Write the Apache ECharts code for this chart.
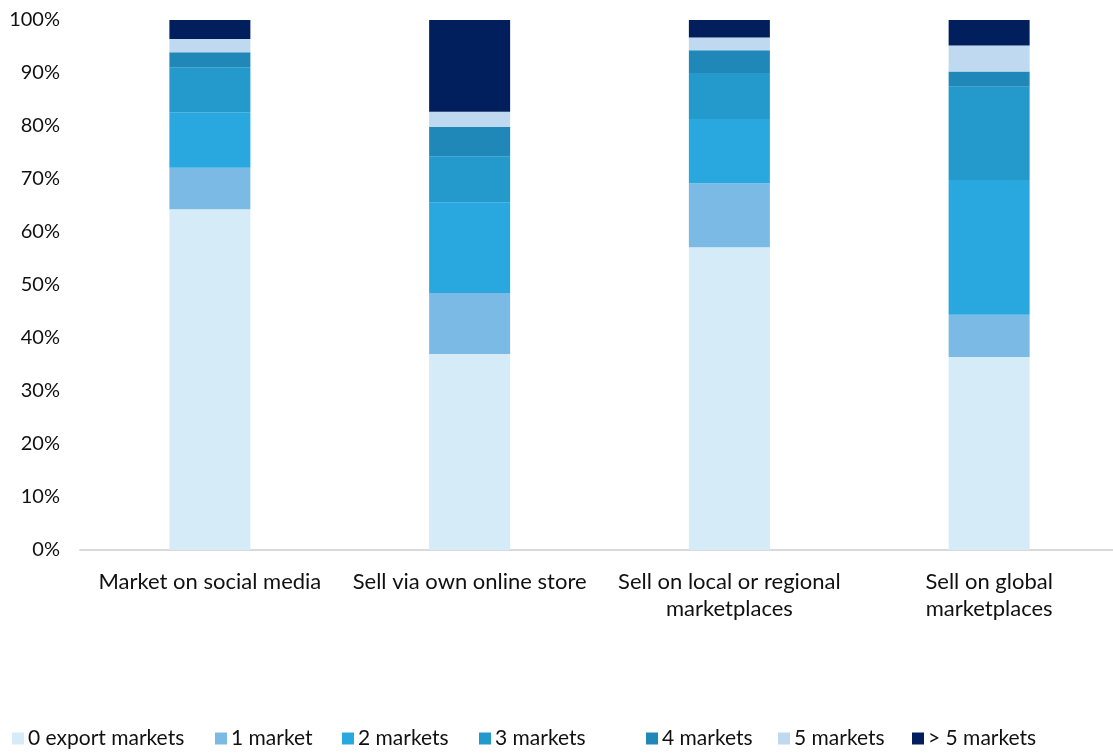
<!DOCTYPE html>
<html>
<head>
<meta charset="utf-8">
<script src="https://cdn.jsdelivr.net/npm/echarts@6/dist/echarts.min.js"></script>
<style>
  html, body { margin: 0; padding: 0; background: #ffffff; }
  #chart { width: 1113px; height: 755px; }
</style>
</head>
<body>
<div id="chart"></div>
<script>
// Channels used by firms, split by number of export markets reached (% of firms)
const categories = [
  'Market on social media',
  'Sell via own online store',
  'Sell on local or regional\nmarketplaces',
  'Sell on global\nmarketplaces'
];
const seriesNames = ['0 export markets', '1 market', '2 markets', '3 markets', '4 markets', '5 markets', '> 5 markets'];
const exportMarkets0 = [64.3, 37.0, 57.1, 36.4];
const exportMarkets1 = [7.8, 11.5, 12.1, 8.0];
const exportMarkets2 = [10.5, 17.1, 12.1, 25.4];
const exportMarkets3 = [8.5, 8.7, 8.7, 17.6];
const exportMarkets4 = [2.8, 5.5, 4.3, 2.9];
const exportMarkets5 = [2.5, 2.9, 2.4, 4.9];
const exportMarketsOver5 = [3.6, 17.3, 3.3, 4.8];
const yTicks = [0, 10, 20, 30, 40, 50, 60, 70, 80, 90, 100];

const colors = ['#D5ECF8', '#7BBAE5', '#29A8E0', '#2399CC', '#1F88B9', '#BFD9F0', '#001F5C'];
const values = [exportMarkets0, exportMarkets1, exportMarkets2, exportMarkets3, exportMarkets4, exportMarkets5, exportMarketsOver5];

const fontFamily = 'Lato, "Open Sans", sans-serif';

// one legend entry per component so each key sits at its own left offset
const legendLefts = [12, 215, 342, 479, 646, 778, 912];
const legends = seriesNames.map((name, i) => ({
  left: legendLefts[i],
  top: 728,
  padding: 0,
  itemWidth: 12,
  itemHeight: 12,
  icon: 'rect',
  textStyle: { fontFamily: fontFamily, fontSize: 21, color: '#111111', padding: [0, 0, 0, -1] },
  data: [name]
}));

const chart = echarts.init(document.getElementById('chart'), null, { renderer: 'canvas' });
chart.setOption({
  animation: false,
  backgroundColor: '#ffffff',
  color: colors,
  grid: { left: 80, top: 20, width: 1039, height: 530, containLabel: false, outerBoundsMode: 'none' },
  legend: legends,
  xAxis: {
    type: 'category',
    data: categories,
    axisLine: { show: true, lineStyle: { color: '#d9d9d9', width: 2 } },
    axisTick: { show: false },
    axisLabel: {
      fontFamily: fontFamily, fontSize: 22, color: '#111111',
      lineHeight: 27, margin: 18, interval: 0
    }
  },
  yAxis: {
    type: 'value',
    min: 0, max: 100, interval: 10,
    splitLine: { show: false },
    axisLine: { show: false },
    axisTick: { show: false },
    axisLabel: {
      fontFamily: fontFamily, fontSize: 20, color: '#111111', margin: 20,
      formatter: v => (yTicks.includes(v) ? v + '%' : '')
    }
  },
  series: seriesNames.map((name, i) => ({
    name: name,
    type: 'bar',
    stack: 'total',
    barWidth: 81,
    data: values[i],
    itemStyle: { color: colors[i] }
  }))
});
</script>
</body>
</html>
